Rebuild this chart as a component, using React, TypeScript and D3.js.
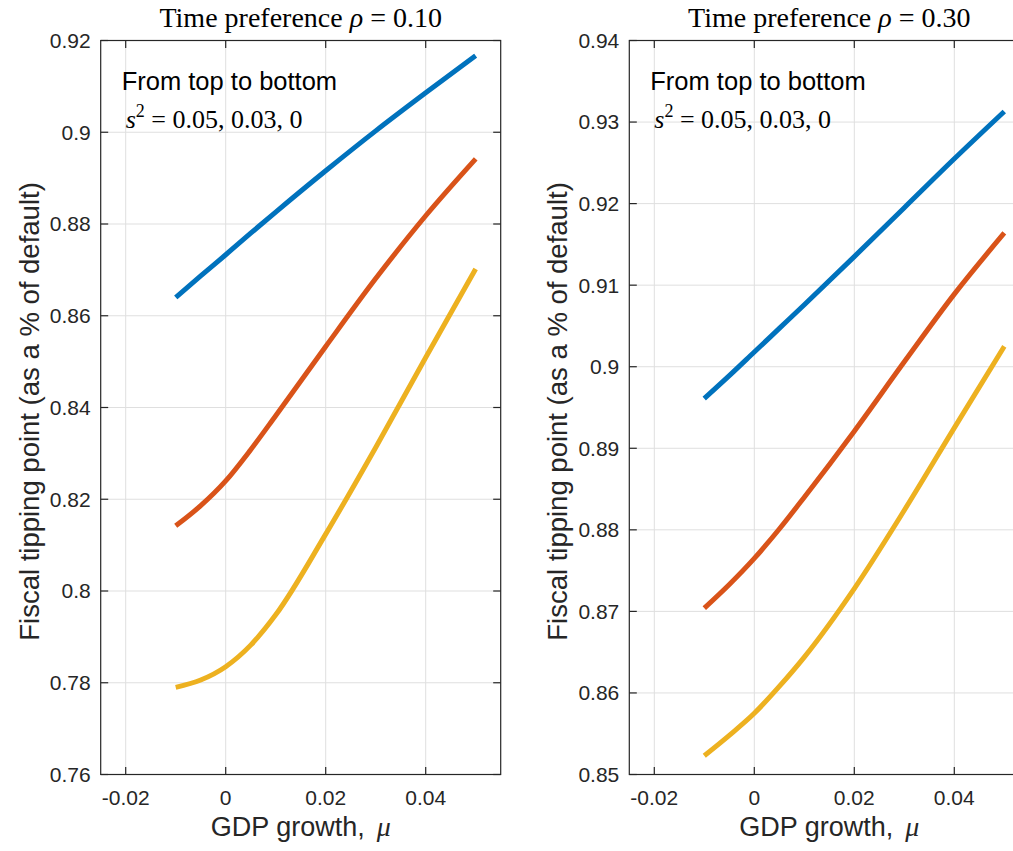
import React from 'react';
import * as d3 from 'd3';

// ---- data ----
const growth = [-0.01, -0.005, 0, 0.005, 0.01, 0.02, 0.03, 0.04, 0.05];

const leftS005 = [0.864, 0.8687, 0.8733, 0.878, 0.8826, 0.8916, 0.9003, 0.9086, 0.9167];
const leftS003 = [0.8142, 0.8186, 0.824, 0.8308, 0.8382, 0.8533, 0.8681, 0.8818, 0.8942];
const leftS000 = [0.779, 0.7806, 0.7835, 0.7882, 0.7948, 0.8124, 0.8313, 0.8509, 0.8702];

const rightS005 = [0.8961, 0.8989, 0.9018, 0.9047, 0.9076, 0.9135, 0.9195, 0.9255, 0.9313];
const rightS003 = [0.8704, 0.8733, 0.8765, 0.8801, 0.884, 0.8921, 0.9006, 0.9089, 0.9164];
const rightS000 = [0.8523, 0.8548, 0.8575, 0.8608, 0.8644, 0.8728, 0.8824, 0.8925, 0.9025];

const xTicks = [-0.02, 0, 0.02, 0.04];
const xTickLabels = ['-0.02', '0', '0.02', '0.04'];

const leftYTicks = [0.76, 0.78, 0.8, 0.82, 0.84, 0.86, 0.88, 0.9, 0.92];
const leftYTickLabels = ['0.76', '0.78', '0.8', '0.82', '0.84', '0.86', '0.88', '0.9', '0.92'];
const rightYTicks = [0.85, 0.86, 0.87, 0.88, 0.89, 0.9, 0.91, 0.92, 0.93, 0.94];
const rightYTickLabels = ['0.85', '0.86', '0.87', '0.88', '0.89', '0.9', '0.91', '0.92', '0.93', '0.94'];

const seriesColors = ['#0072BD', '#D95319', '#EDB120'];
const rhoLabels = ['0.10', '0.30'];

const SANS = 'Liberation Sans, Arial, Helvetica, sans-serif';
const SERIF = 'Liberation Serif, Times New Roman, serif';
const AX = '#262626';
const GRID = '#dfdfdf';

type PanelProps = {
  x0: number;
  x1: number;
  yDomain: [number, number];
  yTicks: number[];
  yTickLabels: string[];
  series: number[][];
  rho: string;
  ylabelX: number;
};

function Panel({ x0, x1, yDomain, yTicks, yTickLabels, series, rho, ylabelX }: PanelProps) {
  const y0 = 40.5;
  const y1 = 774.5;
  const xs = d3.scaleLinear().domain([-0.025, 0.055]).range([x0, x1]);
  const ys = d3.scaleLinear().domain(yDomain).range([y1, y0]);
  const line = d3
    .line<number>()
    .x((_, i) => xs(growth[i]))
    .y((d) => ys(d))
    .curve(d3.curveMonotoneX);
  const tl = 7.5;
  const cx = (x0 + x1) / 2;
  return (
    <g>
      {/* grid */}
      {xTicks.map((t) => (
        <line key={'gx' + t} x1={xs(t)} x2={xs(t)} y1={y0} y2={y1} stroke={GRID} strokeWidth={1} />
      ))}
      {yTicks.map((t) => (
        <line key={'gy' + t} x1={x0} x2={x1} y1={ys(t)} y2={ys(t)} stroke={GRID} strokeWidth={1} />
      ))}
      {/* series */}
      {series.map((s, i) => (
        <path key={'s' + i} d={line(s) || ''} fill="none" stroke={seriesColors[i]} strokeWidth={5} strokeLinecap="butt" />
      ))}
      {/* box */}
      <rect x={x0} y={y0} width={x1 - x0} height={y1 - y0} fill="none" stroke={AX} strokeWidth={1.2} />
      {/* ticks */}
      {xTicks.map((t) => (
        <g key={'tx' + t}>
          <line x1={xs(t)} x2={xs(t)} y1={y1} y2={y1 - tl} stroke={AX} strokeWidth={1.2} />
          <line x1={xs(t)} x2={xs(t)} y1={y0} y2={y0 + tl} stroke={AX} strokeWidth={1.2} />
        </g>
      ))}
      {yTicks.map((t) => (
        <g key={'ty' + t}>
          <line x1={x0} x2={x0 + tl} y1={ys(t)} y2={ys(t)} stroke={AX} strokeWidth={1.2} />
          <line x1={x1} x2={x1 - tl} y1={ys(t)} y2={ys(t)} stroke={AX} strokeWidth={1.2} />
        </g>
      ))}
      {/* tick labels */}
      {xTicks.map((t, i) => (
        <text key={'lx' + t} x={xs(t)} y={805} textAnchor="middle" fontFamily={SANS} fontSize={21} fill={AX}>
          {xTickLabels[i]}
        </text>
      ))}
      {yTicks.map((t, i) => (
        <text key={'ly' + t} x={x0 - 10} y={ys(t)} dy="0.35em" textAnchor="end" fontFamily={SANS} fontSize={21} fill={AX}>
          {yTickLabels[i]}
        </text>
      ))}
      {/* axis labels */}
      <text x={cx} y={836} textAnchor="middle" fontFamily={SANS} fontSize={27} fill={AX}>
        GDP growth,
        <tspan fontFamily={SERIF} fontStyle="italic" fontSize={28} dx={12}>μ</tspan>
      </text>
      <text
        transform={`translate(${ylabelX},${(y0 + y1) / 2 + 4}) rotate(-90)`}
        textAnchor="middle"
        fontFamily={SANS}
        fontSize={27.5}
        fill={AX}
      >
        Fiscal tipping point (as a % of default)
      </text>
      {/* title */}
      <text x={cx} y={27} textAnchor="middle" fontFamily={SERIF} fontSize={28} fill="#000">
        Time preference <tspan fontStyle="italic">ρ</tspan> = {rho}
      </text>
      {/* annotation */}
      <text x={x0 + 21} y={90} fontFamily={SANS} fontSize={25.5} fill="#000">
        From top to bottom
      </text>
      <text x={x0 + 25} y={128} fontFamily={SERIF} fontSize={26} fill="#000">
        <tspan fontStyle="italic">s</tspan>
        <tspan fontSize={18} dy={-11}>2</tspan>
        <tspan dy={11}> = 0.05, 0.03, 0</tspan>
      </text>
    </g>
  );
}

export default function App() {
  return (
    <svg
      width={1013}
      height={851}
      style={{ position: 'absolute', left: 0, top: 0, background: '#fff', overflow: 'hidden' }}
    >
      <rect x={0} y={0} width={1013} height={851} fill="#fff" />
      <Panel
        x0={100.7}
        x1={500.7}
        yDomain={[0.76, 0.92]}
        yTicks={leftYTicks}
        yTickLabels={leftYTickLabels}
        series={[leftS005, leftS003, leftS000]}
        rho={rhoLabels[0]}
        ylabelX={39}
      />
      <Panel
        x0={629.3}
        x1={1029.3}
        yDomain={[0.85, 0.94]}
        yTicks={rightYTicks}
        yTickLabels={rightYTickLabels}
        series={[rightS005, rightS003, rightS000]}
        rho={rhoLabels[1]}
        ylabelX={567}
      />
    </svg>
  );
}
